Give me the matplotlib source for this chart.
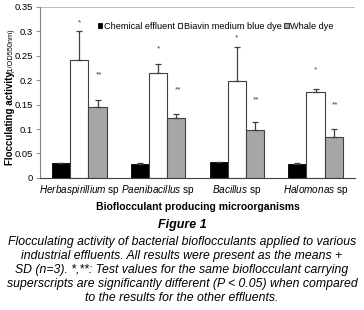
import matplotlib.pyplot as plt
import numpy as np

plt.rcParams['font.family'] = ['Liberation Sans', 'DejaVu Sans']
plt.rcParams['mathtext.fontset'] = 'custom'
plt.rcParams['mathtext.rm'] = 'Liberation Sans'
plt.rcParams['mathtext.it'] = 'Liberation Sans:italic'

# data
species = ['Herbaspirillium', 'Paenibacillus', 'Bacillus', 'Halomonas']
series = ['Chemical effluent', 'Biavin medium blue dye', 'Whale dye']
chemical = [0.030, 0.029, 0.032, 0.029]
chemical_err = [0.001, 0.001, 0.001, 0.002]
biavin = [0.241, 0.215, 0.199, 0.175]
biavin_err = [0.059, 0.018, 0.069, 0.006]
whale = [0.146, 0.122, 0.098, 0.084]
whale_err = [0.013, 0.008, 0.017, 0.016]
star_y = [0.318, 0.264, 0.287, 0.222]
dstar_y = [0.210, 0.180, 0.160, 0.150]

fig = plt.figure(figsize=(3.64, 3.10), dpi=100)
ax = fig.add_axes([0.11, 0.426, 0.865, 0.552])

x = np.arange(len(species))
w = 0.23
ekw = dict(ecolor='#404040', elinewidth=0.9, capsize=2.5, capthick=0.9)
ax.bar(x - w, chemical, w, yerr=[[0] * 4, chemical_err], color='black',
       edgecolor='black', linewidth=0.6, label=series[0], error_kw=ekw)
ax.bar(x, biavin, w, yerr=[[0] * 4, biavin_err], color='white',
       edgecolor='#404040', linewidth=0.8, label=series[1], error_kw=ekw)
ax.bar(x + w, whale, w, yerr=[[0] * 4, whale_err], color='#a6a6a6',
       edgecolor='#404040', linewidth=0.8, label=series[2], error_kw=ekw)

for i in range(len(species)):
    ax.text(x[i], star_y[i], '*', ha='center', va='center', fontsize=6, color='#404040')
    ax.text(x[i] + w + 0.02, dstar_y[i], '**', ha='center', va='center', fontsize=6, color='#404040')

ax.set_ylim(0, 0.35)
ax.set_xlim(-0.5, 3.5)
ax.set_yticks(np.arange(0, 0.351, 0.05))
ax.set_yticklabels(['0', '0.05', '0.1', '0.15', '0.2', '0.25', '0.3', '0.35'], fontsize=6.8)
ax.set_xticks(x)
ax.set_xticklabels([r'$\it{' + s + '}$ sp' for s in species], fontsize=7.2)
ax.tick_params(axis='x', length=0, pad=4)
ax.tick_params(axis='y', length=3, width=0.6, color='#808080', pad=2)
ax.axhline(0.35, color='#b0b0b0', linewidth=1.2)
for s in ['top', 'right']:
    ax.spines[s].set_visible(False)
ax.spines['left'].set_color('#808080')
ax.spines['bottom'].set_color('#404040')
ax.spines['left'].set_linewidth(0.8)
ax.spines['bottom'].set_linewidth(0.8)

ax.legend(loc='upper left', bbox_to_anchor=(0.172, 0.935), ncol=3, frameon=False,
          fontsize=6.6, handlelength=0.5, handleheight=0.5, handletextpad=0.15,
          columnspacing=0.3, borderaxespad=0)

ax.set_xlabel('Bioflocculant producing microorganisms', fontsize=7.5,
              fontweight='bold', labelpad=3)

fig.text(0.028, 0.619, 'Flocculating activity', rotation=90, ha='center', va='center',
         fontsize=7, fontweight='bold')
fig.text(0.031, 0.836, '(1/OD550nm)', rotation=90, ha='center', va='center',
         fontsize=5.3)

fig.text(0.5, 0.274, 'Figure 1', ha='center', va='center', fontsize=9,
         fontweight='bold', style='italic')
caption = ('Flocculating activity of bacterial bioflocculants applied to various\n'
           'industrial effluents. All results were present as the means +\n'
           'SD (n=3). *,**: Test values for the same bioflocculant carrying\n'
           'superscripts are significantly different (P < 0.05) when compared\n'
           'to the results for the other effluents.')
fig.text(0.5, 0.129, caption, ha='center', va='center', fontsize=8.8,
         style='italic', linespacing=1.22)

fig.savefig('out.png', dpi=100)
